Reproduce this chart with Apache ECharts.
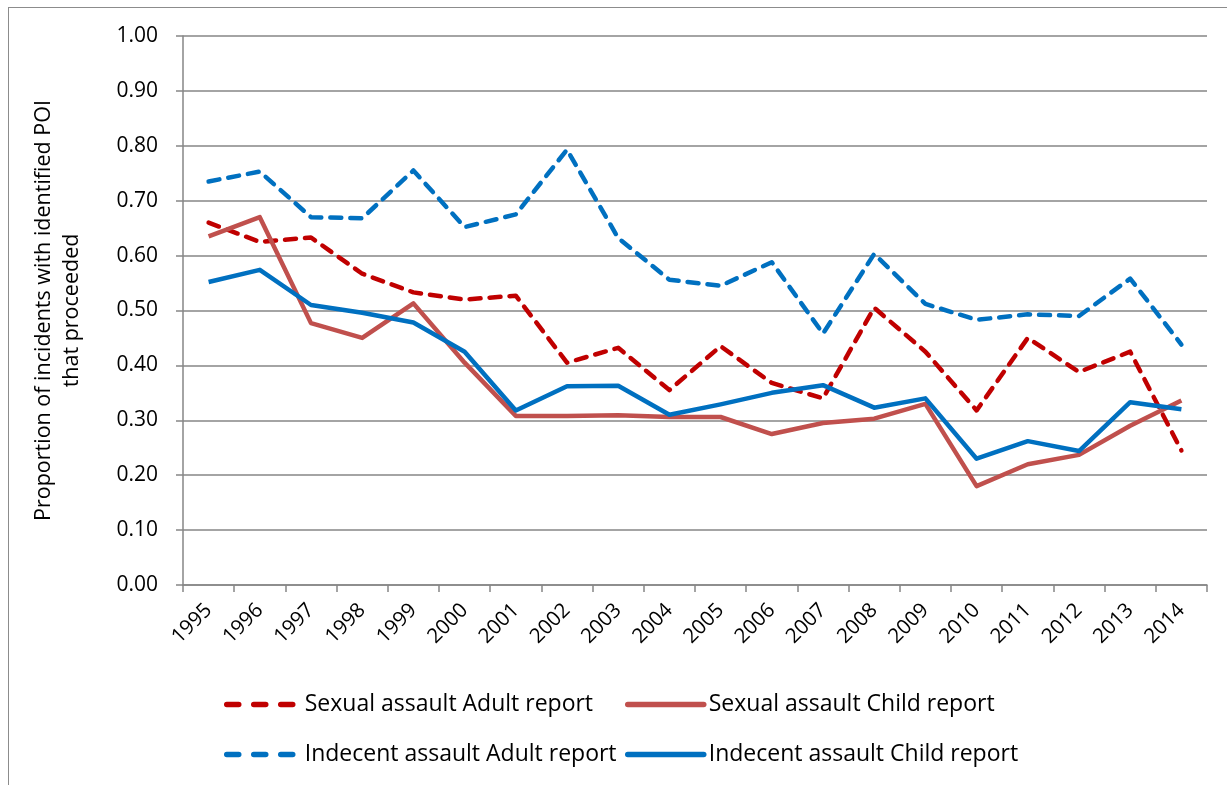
<!DOCTYPE html>
<html>
<head>
<meta charset="utf-8">
<script src="https://cdn.jsdelivr.net/npm/echarts@6/dist/echarts.min.js"></script>
<style>
    html, body { margin: 0; padding: 0; background: #fff; }
    #frame { position: absolute; left: 8px; top: 7px; width: 1300px; height: 900px; border-left: 1.5px solid #8c8c8c; border-top: 1.5px solid #8c8c8c; }
    #chart { position: absolute; left: 0; top: 0; width: 1227px; height: 785px; }
</style>
</head>
<body>
<div id="frame"></div>
<div id="chart"></div>
<script>
const years = ['1995', '1996', '1997', '1998', '1999', '2000', '2001', '2002', '2003', '2004',
    '2005', '2006', '2007', '2008', '2009', '2010', '2011', '2012', '2013', '2014']

const sexualAdult = [0.66, 0.625, 0.633, 0.567, 0.533, 0.52, 0.527, 0.405, 0.432, 0.355,
    0.435, 0.368, 0.34, 0.505, 0.425, 0.318, 0.45, 0.388, 0.425, 0.245]
const sexualChild = [0.635, 0.67, 0.477, 0.45, 0.513, 0.405, 0.308, 0.308, 0.309, 0.306,
    0.306, 0.275, 0.295, 0.303, 0.33, 0.18, 0.22, 0.237, 0.29, 0.336]
const indecentAdult = [0.735, 0.753, 0.67, 0.668, 0.755, 0.652, 0.675, 0.793, 0.632, 0.556,
    0.545, 0.588, 0.458, 0.603, 0.512, 0.483, 0.493, 0.49, 0.558, 0.438]
const indecentChild = [0.552, 0.574, 0.51, 0.496, 0.478, 0.425, 0.318, 0.362, 0.363, 0.31,
    0.329, 0.35, 0.364, 0.323, 0.34, 0.23, 0.262, 0.244, 0.333, 0.32]

const font = '"Open Sans", sans-serif'
const grey = '#868686'

const chart = echarts.init(document.getElementById('chart'))

function lineSeries(name, data, color, dashed) {
    return {
        name: name,
        type: 'line',
        data: data,
        showSymbol: false,
        symbol: 'none',
        animation: false,
        lineStyle: {
            color: color,
            width: 4.5,
            type: dashed ? [11, 9] : 'solid',
            cap: dashed ? 'round' : 'butt',
            join: 'round'
        },
        itemStyle: { color: color }
    }
}

function legendItem(name, dashed) {
    return {
        name: name,
        itemStyle: { opacity: 0 },
        lineStyle: { width: 5.5, type: dashed ? [12, 15] : 'solid', cap: 'round', dashOffset: -3 }
    }
}

const legendBase = {
    orient: 'vertical',
    top: 688,
    itemWidth: 76,
    itemHeight: 12,
    itemGap: 27,
    textStyle: { fontFamily: font, fontSize: 23, color: '#000' }
}

chart.setOption({
    animation: false,
    grid: { left: 183, right: 20, top: 36, bottom: 200 },
    legend: [
        Object.assign({}, legendBase, {
            left: 216,
            data: [legendItem('Sexual assault Adult report', true), legendItem('Indecent assault Adult report', true)]
        }),
        Object.assign({}, legendBase, {
            left: 620,
            data: [legendItem('Sexual assault Child report', false), legendItem('Indecent assault Child report', false)]
        })
    ],
    xAxis: {
        type: 'category',
        data: years,
        boundaryGap: true,
        axisLine: { lineStyle: { color: grey, width: 1.5 } },
        axisTick: { show: true, length: 7, inside: false, lineStyle: { color: grey, width: 1.5 } },
        axisLabel: {
            rotate: 45,
            interval: 0,
            margin: 22,
            fontFamily: font,
            fontSize: 20.5,
            color: '#000'
        }
    },
    yAxis: {
        type: 'value',
        min: 0,
        max: 1,
        interval: 0.1,
        name: 'Proportion of incidents with identified POI\nthat proceeded',
        nameLocation: 'middle',
        nameGap: 97,
        nameTextStyle: { fontFamily: font, fontSize: 21.5, color: '#000', lineHeight: 28 },
        axisLine: { show: true, lineStyle: { color: grey, width: 1.5 } },
        axisTick: { show: true, length: 7, lineStyle: { color: grey, width: 1.5 } },
        splitLine: { lineStyle: { color: grey, width: 1.5 } },
        axisLabel: {
            margin: 25,
            fontFamily: font,
            fontSize: 21,
            color: '#000',
            formatter: v => v.toFixed(2)
        }
    },
    series: [
        lineSeries('Sexual assault Adult report', sexualAdult, '#C00000', true),
        lineSeries('Sexual assault Child report', sexualChild, '#C0504D', false),
        lineSeries('Indecent assault Adult report', indecentAdult, '#0070C0', true),
        lineSeries('Indecent assault Child report', indecentChild, '#0070C0', false)
    ]
})
</script>
</body>
</html>
